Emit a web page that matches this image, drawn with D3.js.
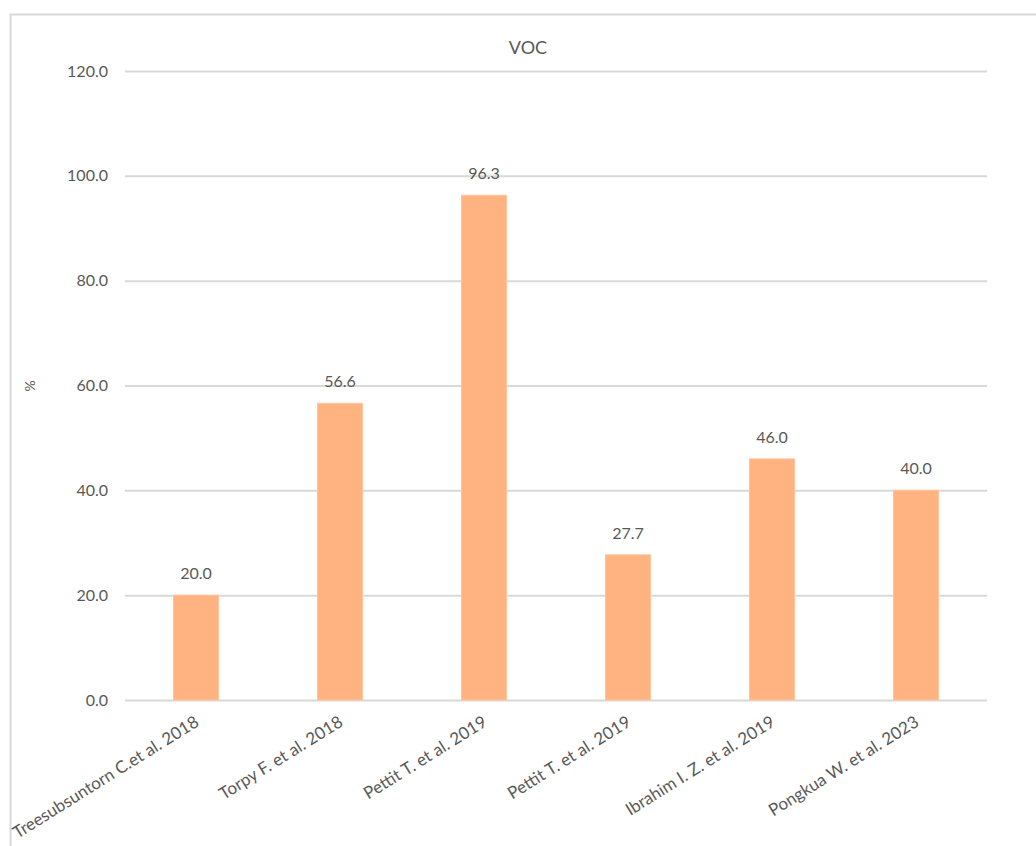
<!DOCTYPE html>
<html>
<head>
<meta charset="utf-8">
<script src="https://cdn.jsdelivr.net/npm/d3@7"></script>
<style>
  html, body { margin: 0; padding: 0; background: #fff; }
  svg { display: block; font-family: Lato, "Noto Sans", sans-serif; }
</style>
</head>
<body>
<svg id="chart" width="1036" height="846"></svg>
<script>
// VOC removal reported by each study
const studies = [
  "Treesubsuntorn C.et al. 2018",
  "Torpy F. et al. 2018",
  "Pettit T. et al. 2019",
  "Pettit T. et al. 2019 ",
  "Ibrahim I. Z. et al. 2019",
  "Pongkua W. et al. 2023"
];
const studyLabels = [
  "Treesubsuntorn C.et al. 2018",
  "Torpy F. et al. 2018",
  "Pettit T. et al. 2019",
  "Pettit T. et al. 2019",
  "Ibrahim I. Z. et al. 2019",
  "Pongkua W. et al. 2023"
];
const vocValues = [20.0, 56.6, 96.3, 27.7, 46.0, 40.0];
const yTicks = [0, 20, 40, 60, 80, 100, 120];

const svg = d3.select("#chart");
const textColor = "#595959";
const gridColor = "#d9d9d9";

// outer chart frame
svg.append("rect")
  .attr("x", 10.5).attr("y", 14.5)
  .attr("width", 1040).attr("height", 850)
  .attr("fill", "none").attr("stroke", gridColor).attr("stroke-width", 2);

const plot = { left: 124, right: 988, top: 71, bottom: 700 };

const x = d3.scaleBand()
  .domain(studies)
  .range([plot.left, plot.right])
  .paddingInner(0.6875)
  .paddingOuter(0.34375);

const y = d3.scaleLinear()
  .domain([0, 120])
  .range([plot.bottom, plot.top]);

// gridlines and value axis
const yAxis = d3.axisLeft(y)
  .tickValues(yTicks)
  .tickFormat(d3.format(".1f"))
  .tickSize(-(plot.right - plot.left - 2))
  .tickPadding(17);

const gy = svg.append("g")
  .attr("transform", `translate(${plot.left + 1},0)`)
  .call(yAxis);
gy.select(".domain").remove();
gy.selectAll(".tick line").attr("stroke", gridColor).attr("stroke-width", 2);
gy.selectAll(".tick text")
  .attr("fill", textColor)
  .attr("font-size", 16)
  .attr("font-family", "Lato, 'Noto Sans', sans-serif");

// bars
svg.append("g").selectAll("rect")
  .data(vocValues)
  .join("rect")
  .attr("x", (d, i) => x(studies[i]))
  .attr("y", d => y(d))
  .attr("width", x.bandwidth())
  .attr("height", d => y(0) - y(d))
  .attr("fill", "#ffb381")
  .attr("stroke", "#ffc49c")
  .attr("stroke-width", 1);

// value labels
svg.append("g").selectAll("text")
  .data(vocValues)
  .join("text")
  .attr("x", (d, i) => x(studies[i]) + x.bandwidth() / 2)
  .attr("y", d => y(d) - 16)
  .attr("text-anchor", "middle")
  .attr("fill", textColor)
  .attr("font-size", 16)
  .text(d => d3.format(".1f")(d));

// category labels, slanted
svg.append("g").selectAll("text")
  .data(studyLabels)
  .join("text")
  .attr("transform", (d, i) => {
    const cx = x(studies[i]) + x.bandwidth() / 2;
    return `translate(${cx + 4},${725}) rotate(-32)`;
  })
  .attr("text-anchor", "end")
  .attr("fill", textColor)
  .attr("font-size", 17)
  .text(d => d);

// title
svg.append("text")
  .attr("x", 528).attr("y", 54)
  .attr("text-anchor", "middle")
  .attr("fill", textColor)
  .attr("font-size", 18)
  .text("VOC");

// value axis title
svg.append("text")
  .attr("transform", "translate(35,386) rotate(-90)")
  .attr("text-anchor", "middle")
  .attr("fill", textColor)
  .attr("font-size", 14)
  .text("%");
</script>
</body>
</html>
